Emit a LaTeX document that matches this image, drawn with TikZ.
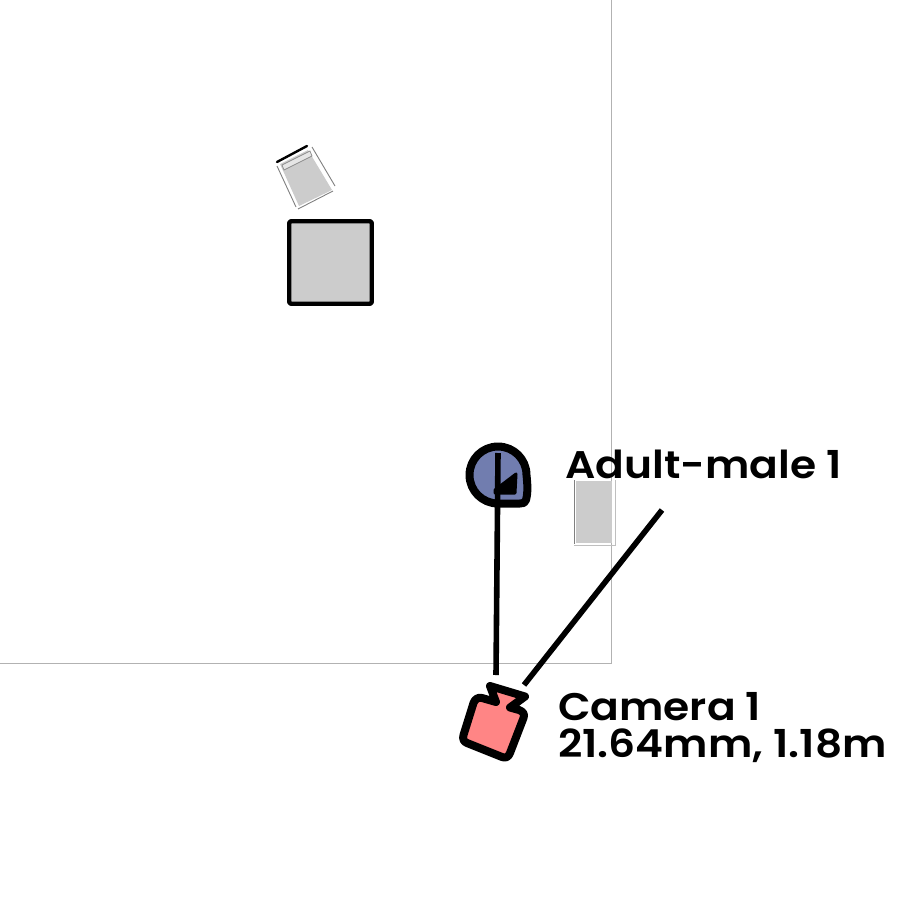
\documentclass[tikz,border=0pt]{standalone}
\usepackage{fontspec}
\setmainfont{Poppins}[BoldFont={Poppins SemiBold},BoldFeatures={FakeStretch=1.1}]
\tikzset{
 ink/.style={draw=black,line join=round,line cap=round},
 room/.style={draw=black!30,line width=1pt},
 ghost/.style={draw=black!50,line width=0.9pt},
 label/.style={inner sep=0pt,anchor=base west,font=\fontsize{38.5}{38.5}\selectfont\bfseries},
}
\begin{document}
\begin{tikzpicture}[x=1pt,y=-1pt]
\useasboundingbox (0,0) rectangle (900,900);
\fill[white] (0,0) rectangle (900,900);
% room
\coordinate (rc) at (611,663);
\coordinate (rt) at (611,0);
\coordinate (rl) at (0,663);
\draw[room] (rt) -- (rc) -- (rl);
% small tilted object
\fill[black!20] (280,164) -- (308,150) -- (332,190) -- (299,206) -- cycle;
\draw[ghost] (277,166) -- (296,207);
\draw[ghost] (312,147) -- (335,186);
\draw[ghost] (298,209) -- (333,191);
\draw[draw=black!45,fill=black!10,line width=0.7pt] (282,165) -- (310,151) -- (312,156) -- (284,170) -- cycle;
\draw[ink,line width=2.4pt] (277,162) -- (307,146);
% big square
\node[ink,fill=black!20,line width=4.4pt,rounded corners=1.5pt,minimum size=82.5pt,inner sep=0pt] (box) at (330.5,262.5) {};
% small rect
\fill[black!20] (576,481) rectangle (612,543);
\draw[ghost] (574,480) -- (574,544);
\draw[ghost,draw=black!25] (574,545.5) -- (616,545.5);
\draw[ghost,draw=black!25] (615.5,480) -- (615.5,545);
% person
\filldraw[ink,fill={rgb,255:red,113;green,125;blue,175},line width=8pt]
  (498,503.5) arc[start angle=90,end angle=360,radius=28.5] .. controls (527.5,485) and (528,492) .. (526,500) .. controls (525.5,503) and (523,503.5) .. (520,503.5) -- cycle;
\fill[ink,line width=3pt] (495,490) -- (516,474) -- (515,493) -- (495,493) -- cycle;
% camera
\filldraw[ink,fill={rgb,255:red,255;green,133;blue,133},line width=8pt]
  (490,686) -- (525,696.5) -- (510,707.5) -- (519,710)
  .. controls (523,711.5) and (525,714) .. (523.5,718) -- (510,753)
  .. controls (508.5,757) and (505.5,758.5) .. (502,757) -- (467,743)
  .. controls (463.5,741.5) and (462.5,739) .. (463.5,735) -- (473.5,703)
  .. controls (475,699) and (478,697) .. (482,698) -- (496,702) -- cycle;
\coordinate (cama) at (496,675);
\coordinate (camb) at (524,685);
\coordinate (pt) at (498,453);
\coordinate (far) at (662,510);
\draw[draw=black,line width=5.6pt] (pt) -- (cama);
\draw[draw=black,line width=5.6pt] (camb) -- (far);
% labels
\node[label] (lp) at (565,478) {Adult-male 1};
\node[label] (lc) at (558,720) {Camera 1};
\node[label] (ld) at (558,757) {21.64mm, 1.18m};
\end{tikzpicture}
\end{document}
